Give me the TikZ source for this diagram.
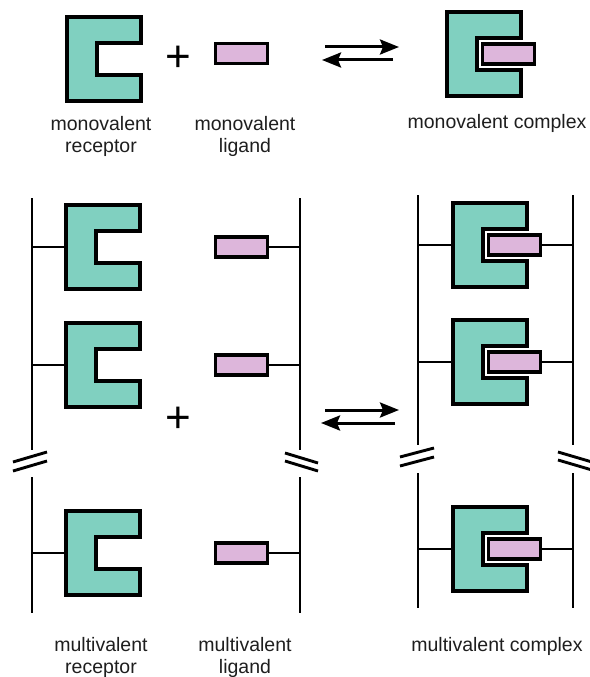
\documentclass[tikz,border=0pt]{standalone}
\usepackage{fontspec}
\setmainfont{Liberation Sans}
\usetikzlibrary{arrows.meta}
\definecolor{recfill}{RGB}{128,208,192}
\definecolor{ligfill}{RGB}{221,182,219}
\definecolor{txt}{RGB}{30,30,30}
% receptor: #1 name, #2 x, #3 y (top-left corner)
\newcommand\recp[3]{%
  \draw[recstyle] (#2,#3) -- ++(74,0) -- ++(0,26) -- ++(-44,0) -- ++(0,32) -- ++(44,0) -- ++(0,26) -- ++(-74,0) -- cycle;
  \coordinate (#1) at (#2,#3+42);}
\begin{document}
\begin{tikzpicture}[x=1pt,y=-1pt,
  recstyle/.style={draw=black,fill=recfill,line width=3.3pt,line join=miter},
  lig/.style={draw=black,fill=ligfill,line width=3.2pt,minimum width=52pt,minimum height=20pt,inner sep=0pt,outer sep=0pt},
  axis/.style={draw=black,line width=2.9pt},
  stub/.style={draw=black,line width=2.7pt},
  brk/.style={draw=black,line width=2.9pt},
  equil/.style={draw=black,line width=3pt,-{Stealth[length=19pt,width=15pt,inset=3pt]}},
  lbl/.style={anchor=base,inner sep=0pt,text=txt,font=\fontsize{19.5}{22}\selectfont},
  plus/.style={anchor=base,inner sep=0pt,text=black,font=\fontsize{44}{44}\selectfont}]
\useasboundingbox (0,0) rectangle (589,677);

% ---------- monovalent ----------
\recp{mr}{67}{17}
\node[plus] (p1) at (178,71.5) {+};
\node[lig] (ml) at (241.5,53.5) {};
\coordinate (a1s) at (325,47); \coordinate (a1e) at (399,47);
\coordinate (a2s) at (393,60); \coordinate (a2e) at (322,60);
\draw[equil] (a1s) -- (a1e);
\draw[equil] (a2s) -- (a2e);
\recp{mc}{447}{12}
\node[lig] (mcl) at (508.5,54) {};

\node[lbl] (t1) at (101,130) {monovalent};
\node[lbl] (t2) at (101,152) {receptor};
\node[lbl] (t3) at (245,130) {monovalent};
\node[lbl] (t4) at (245,152) {ligand};
\node[lbl] (t5) at (497,128) {monovalent complex};

% ---------- multivalent receptor ----------
\coordinate (L0) at (32,198); \coordinate (L1) at (32,450);
\coordinate (L2) at (32,477); \coordinate (L3) at (32,613);
\draw[axis] (L0) -- (L1);
\draw[axis] (L2) -- (L3);
\draw[brk] (13,462) -- (47,452);
\draw[brk] (13,471) -- (47,461);
\recp{r1}{66}{205}
\recp{r2}{66}{323}
\recp{r3}{66}{511}
\coordinate (s1) at (32,247); \coordinate (s2) at (32,365); \coordinate (s3) at (32,553);
\draw[stub] (s1) -- (r1);
\draw[stub] (s2) -- (r2);
\draw[stub] (s3) -- (r3);

\node[plus] (p2) at (178,432.5) {+};

% ---------- multivalent ligand ----------
\coordinate (R0) at (300,198); \coordinate (R1) at (300,450);
\coordinate (R2) at (300,477); \coordinate (R3) at (300,613);
\draw[axis] (R0) -- (R1);
\draw[axis] (R2) -- (R3);
\draw[brk] (285,453) -- (318,463);
\draw[brk] (285,461) -- (318,471);
\node[lig] (l1) at (241.5,247) {};
\node[lig] (l2) at (241.5,365) {};
\node[lig] (l3) at (241.5,553) {};
\coordinate (u1) at (300,247); \coordinate (u2) at (300,365); \coordinate (u3) at (300,553);
\draw[stub] (l1.east) -- (u1);
\draw[stub] (l2.east) -- (u2);
\draw[stub] (l3.east) -- (u3);

% arrows
\coordinate (b1s) at (325,410); \coordinate (b1e) at (399,410);
\coordinate (b2s) at (395,423); \coordinate (b2e) at (321,423);
\draw[equil] (b1s) -- (b1e);
\draw[equil] (b2s) -- (b2e);

% ---------- multivalent complex ----------
\coordinate (CL0) at (418,195); \coordinate (CL1) at (418,445);
\coordinate (CL2) at (418,473); \coordinate (CL3) at (418,608);
\coordinate (CR0) at (573,195); \coordinate (CR1) at (573,445);
\coordinate (CR2) at (573,473); \coordinate (CR3) at (573,608);
\draw[axis] (CL0) -- (CL1);
\draw[axis] (CL2) -- (CL3);
\draw[axis] (CR0) -- (CR1);
\draw[axis] (CR2) -- (CR3);
\draw[brk] (400,457) -- (434,448);
\draw[brk] (400,466) -- (434,457);
\draw[brk] (558,452) -- (592,462);
\draw[brk] (558,460) -- (592,470);
\recp{c1}{453}{203}
\recp{c2}{453}{320}
\recp{c3}{453}{507}
\node[lig] (cl1) at (514.5,245) {};
\node[lig] (cl2) at (514.5,362) {};
\node[lig] (cl3) at (514.5,549) {};
\coordinate (v1) at (418,245); \coordinate (v2) at (418,362); \coordinate (v3) at (418,549);
\coordinate (w1) at (573,245); \coordinate (w2) at (573,362); \coordinate (w3) at (573,549);
\draw[stub] (v1) -- (c1);
\draw[stub] (v2) -- (c2);
\draw[stub] (v3) -- (c3);
\draw[stub] (cl1.east) -- (w1);
\draw[stub] (cl2.east) -- (w2);
\draw[stub] (cl3.east) -- (w3);

\node[lbl] (t6) at (101,651) {multivalent};
\node[lbl] (t7) at (101,673) {receptor};
\node[lbl] (t8) at (245,651) {multivalent};
\node[lbl] (t9) at (245,673) {ligand};
\node[lbl] (t10) at (497,651) {multivalent complex};
\end{tikzpicture}
\end{document}
